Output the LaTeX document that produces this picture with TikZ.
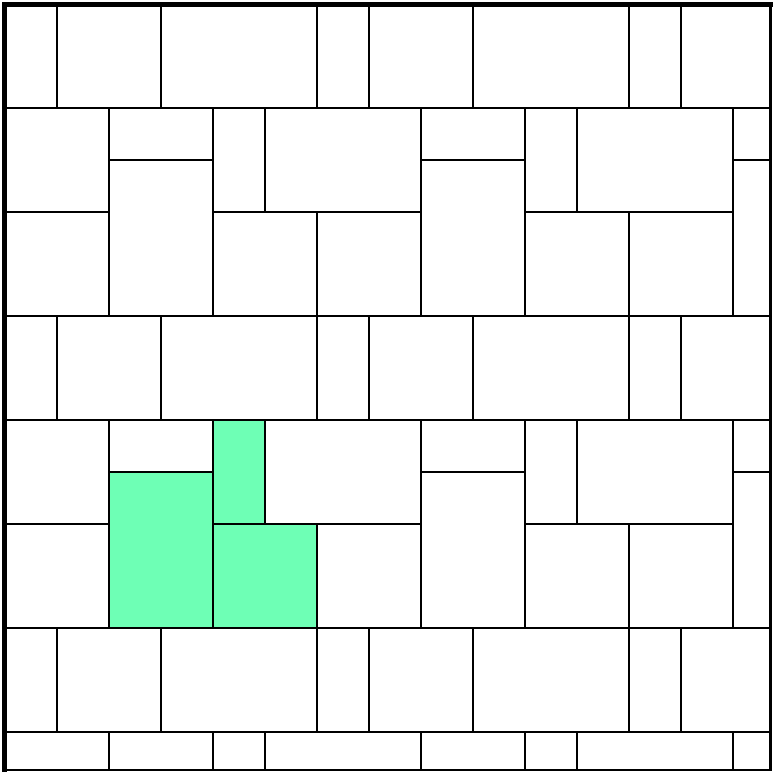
\documentclass[tikz,border=0pt]{standalone}
\definecolor{tilegreen}{RGB}{110,255,181}
\begin{document}
\begin{tikzpicture}[x=1pt,y=-1pt]
\useasboundingbox (0,0) rectangle (773,772);
\begin{scope}[shift={(5.3,3.6)}, x=52pt, y=-52pt, line width=2pt]
  \clip (0,0) rectangle (14.72,14.74);
  % green tiles
  \fill[tilegreen] (2,9) rectangle (4,12);
  \fill[tilegreen] (4,8) rectangle (5,10);
  \fill[tilegreen] (4,10) rectangle (6,12);
  % full horizontal joints
  \foreach \y in {2,6,8,12,14} \draw (-1,\y) -- (16,\y);
  % rows of type A
  \foreach \y in {0,6,12}
    \foreach \x in {1,3,6,7,9,12,13} \draw (\x,\y) -- (\x,\y+2);
  % rows of type B
  \foreach \y in {2,8,14} {
    \foreach \x in {2,4,8,10,14} \draw (\x,\y) -- (\x,\y+4);
    \foreach \x in {-1,5,11} \draw (\x,\y) -- (\x,\y+2);
    \foreach \x in {0,6,12} \draw (\x,\y+2) -- (\x,\y+4);
    \foreach \x in {2,8,14} \draw (\x,\y+1) -- (\x+2,\y+1);
    \foreach \x in {-2,4,10} \draw (\x,\y+2) -- (\x+4,\y+2);
  }
\end{scope}
% frame
\draw[line width=4.5pt, line cap=rect] (770.5,4.5) -- (4.5,4.5) -- (4.5,770);
\draw[line width=2.5pt, line cap=rect] (4.5,770) -- (770.5,770) -- (770.5,4.5);
\end{tikzpicture}
\end{document}
